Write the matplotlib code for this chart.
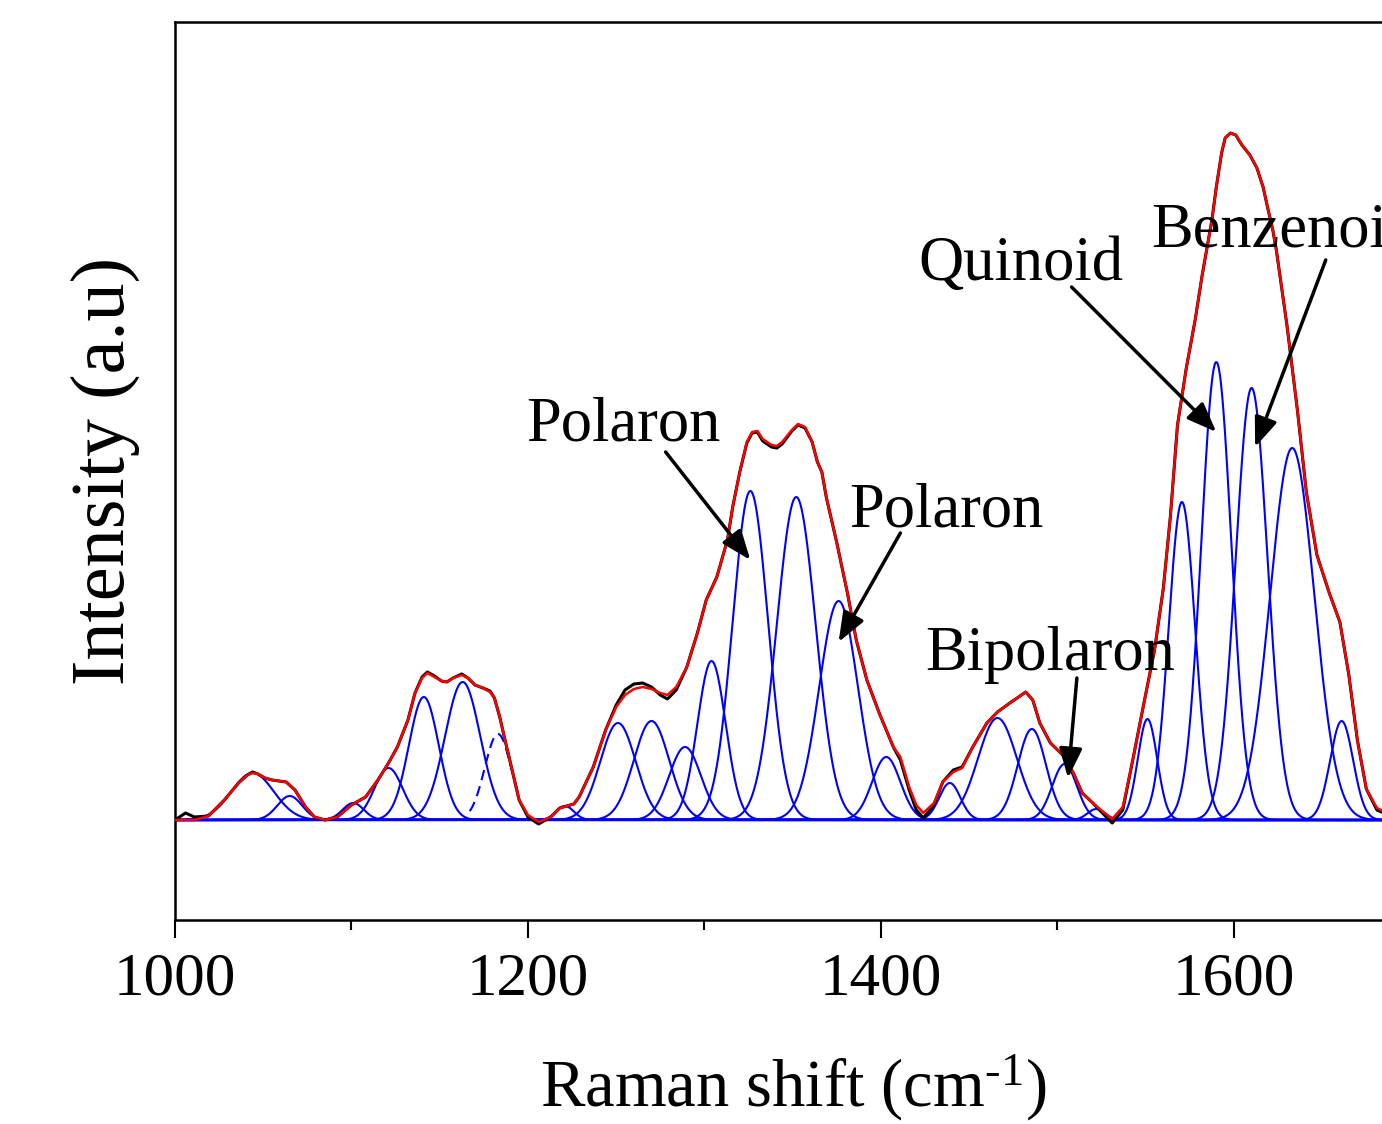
import matplotlib.pyplot as plt
import numpy as np

plt.rcParams["font.family"] = ["Liberation Serif", "DejaVu Serif"]
plt.rcParams["mathtext.fontset"] = "custom"
plt.rcParams["mathtext.rm"] = "Liberation Serif"
plt.rcParams["mathtext.default"] = "regular"

# fitted bands: centre (cm-1), height (a.u.), sigma (cm-1)
band_centers = [1044, 1065, 1101, 1121, 1141, 1163, 1221, 1251, 1270, 1289,
                1304, 1326, 1352, 1376, 1403, 1439, 1466, 1485.5, 1504, 1522,
                1551, 1570.5, 1590, 1610, 1633, 1661]
band_heights = [47, 24, 17, 52, 123, 138, 14, 97, 99, 73,
                159, 329, 323, 219, 63, 37, 102, 91, 56, 11,
                101, 318, 458, 432, 372, 99]
band_sigmas = [12, 7, 6, 8, 8.5, 10, 5, 10, 10, 9,
               8, 10, 11, 11, 8, 6, 11, 8, 7, 5,
               5.5, 7.5, 8.5, 9, 12.5, 6.5]

# dashed band, only partly drawn
dash_center, dash_height, dash_sigma = 1183, 86, 7.5
dash_range = (1167, 1194)

# fitted envelope (red) and measured spectrum (black), same x grid
fit_x = [1000, 1006, 1011, 1019, 1028, 1036, 1041, 1044, 1047, 1051,
         1055, 1059, 1063, 1068, 1074, 1079, 1085, 1092, 1100, 1108,
         1115, 1121, 1126, 1132, 1136, 1140, 1143, 1147, 1151, 1154,
         1157.5, 1162.5, 1166, 1170, 1174.5, 1178.5, 1181, 1184, 1187, 1191,
         1195, 1200, 1206, 1213, 1218, 1222, 1226, 1229, 1237, 1244,
         1250, 1255, 1260, 1265, 1270, 1275, 1279, 1284, 1290, 1296,
         1301, 1307, 1313, 1316, 1320, 1324, 1327, 1330, 1333, 1338,
         1341, 1344, 1349.5, 1353, 1357, 1361, 1364, 1366.5, 1369, 1375,
         1381, 1386, 1392, 1399, 1407, 1411, 1416, 1420, 1424, 1430,
         1435, 1441, 1446, 1452, 1460, 1466, 1473, 1478, 1482, 1486,
         1490, 1496, 1503, 1509, 1514, 1520, 1526, 1531, 1537, 1543,
         1549, 1555, 1560, 1564, 1568, 1573, 1578, 1582, 1587.5, 1590,
         1593, 1595, 1598, 1601, 1604.5, 1609, 1613, 1616.5, 1619, 1622,
         1624, 1630, 1636, 1641, 1647, 1654, 1660, 1665, 1670, 1675,
         1681, 1690, 1700]
fit_y = [0, 0, 0, 4, 20, 37, 45, 47, 46, 42,
         40, 39, 38, 30, 13, 3, 0, 3, 15, 23,
         40, 57, 73, 100, 127, 142, 147, 143, 139, 138,
         142, 145, 142, 135, 132, 128, 122, 103, 80, 50,
         20, 5, -2, 3, 12, 14, 16, 23, 53, 90,
         113, 125, 131, 133, 131, 127, 125, 133, 153, 187,
         220, 243, 280, 313, 348, 378, 388, 389, 381, 375,
         374, 378, 390, 396, 393, 378, 358, 348, 323, 277,
         227, 180, 140, 107, 73, 63, 33, 15, 7, 17,
         38, 48, 52, 73, 97, 108, 117, 123, 128, 120,
         97, 77, 65, 47, 27, 17, 8, 1, 13, 63,
         117, 170, 232, 304, 395, 452, 500, 545, 600, 633,
         667, 682, 687, 685, 675, 665, 652, 633, 613, 590,
         570, 495, 409, 328, 265, 227, 198, 146, 79, 31,
         12, 4, 2]
data_y = [0, 7, 3, 4, 20, 37, 45, 48, 46, 42,
          40, 39, 38, 30, 13, 3, 0, 3, 15, 23,
          40, 57, 73, 100, 127, 143, 148, 144, 139, 138,
          142, 146, 142, 135, 132, 129, 122, 103, 80, 50,
          20, 3, -4, 3, 12, 14, 16, 23, 53, 90,
          115, 130, 136, 137, 133, 125, 121, 130, 153, 187,
          220, 243, 280, 313, 348, 377, 387, 388, 379, 373,
          372, 376, 389, 395, 392, 378, 358, 348, 323, 277,
          227, 180, 140, 107, 73, 60, 30, 10, 2, 15,
          38, 50, 53, 73, 97, 108, 117, 123, 128, 120,
          97, 77, 65, 47, 27, 17, 6, -3, 10, 63,
          117, 170, 232, 304, 395, 452, 500, 545, 600, 633,
          667, 682, 687, 685, 675, 665, 652, 633, 613, 590,
          570, 495, 409, 328, 265, 227, 198, 146, 79, 31,
          10, 3, 2]

# peak labels: text, text position, arrow tail, arrow head (data coords)
labels = ["Polaron", "Polaron", "Bipolaron", "Quinoid", "Benzenoid"]
label_pos = [(1199, 380), (1382, 294), (1425, 150), (1421, 540), (1553, 573)]
arrow_tail = [(1278, 368), (1411, 287), (1511, 142), (1508, 533), (1652, 560)]
arrow_head = [(1326, 260), (1376, 178), (1506, 42), (1590, 388), (1612, 373)]


def gauss(x, c, h, s):
    return h * np.exp(-0.5 * ((x - c) / s) ** 2)


fig = plt.figure(figsize=(13.82, 11.24), dpi=100)
ax = fig.add_axes([0.1266, 0.1815, 0.894, 0.7989])

xs = np.linspace(1000, 1700, 3000)
for c, h, s in zip(band_centers, band_heights, band_sigmas):
    ax.plot(xs, gauss(xs, c, h, s), color="#0000ff", lw=1.5, zorder=2)

xd = np.linspace(dash_range[0], dash_range[1], 200)
ax.plot(xd, gauss(xd, dash_center, dash_height, dash_sigma), color="#0000ff",
        lw=1.5, ls=(0, (5, 3)), zorder=2)

ax.plot(fit_x, data_y, color="black", lw=2.2, zorder=3, solid_joinstyle="round")
ax.plot(fit_x, fit_y, color="#ff0000", lw=1.8, zorder=4, solid_joinstyle="round")

for txt, pos, tail, head in zip(labels, label_pos, arrow_tail, arrow_head):
    ax.text(pos[0], pos[1], txt, fontsize=45, va="baseline", ha="left", zorder=6)
    ax.annotate("", xy=head, xytext=tail,
                arrowprops=dict(arrowstyle="-|>,head_length=0.9,head_width=0.35",
                                lw=2.5, color="black", shrinkA=0, shrinkB=0,
                                mutation_scale=20),
                zorder=5)

ax.set_xlim(1000, 1700)
ax.set_ylim(-100, 798)
ax.set_yticks([])
ax.set_xticks([1000, 1200, 1400, 1600])
ax.set_xticks([1100, 1300, 1500, 1700], minor=True)
ax.tick_params(axis="x", which="major", direction="out", length=13, width=1.5,
               labelsize=44, pad=10)
ax.tick_params(axis="x", which="minor", direction="out", length=7, width=1.5)
for sp in ax.spines.values():
    sp.set_linewidth(1.8)

fig.text(793 / 1382, 1 - 1106 / 1124, r"Raman shift (cm$^{\text{-1}}$)", fontsize=48,
         ha="center", va="baseline")
fig.text(105 / 1382, 1 - 471 / 1124, "Intensity (a.u)", fontsize=55,
         ha="center", va="center", rotation=90)

fig.savefig("out.png", dpi=100)
